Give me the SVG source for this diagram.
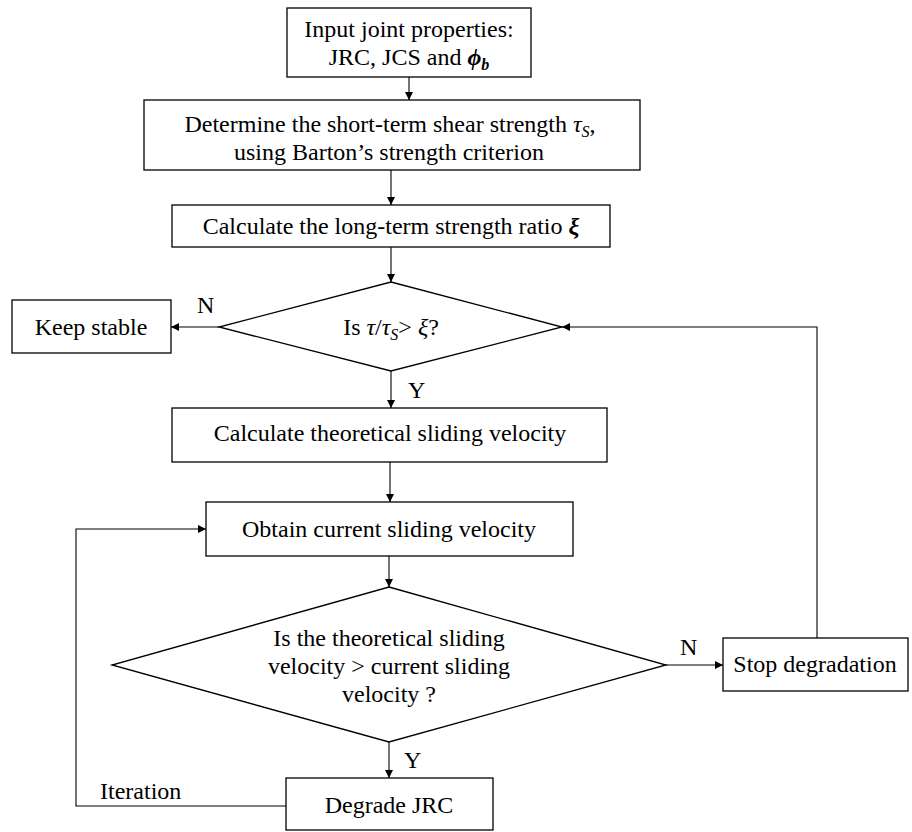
<svg xmlns="http://www.w3.org/2000/svg" width="912" height="832" viewBox="0 0 912 832">
<defs>
<marker id="arr" viewBox="0 0 10 10" refX="10" refY="5" markerWidth="8" markerHeight="8" markerUnits="userSpaceOnUse" orient="auto">
<path d="M0,0 L10,5 L0,10 z" fill="#000"/>
</marker>
<style>
.box{fill:#fff;stroke:#000;stroke-width:1.3}
.t{font-family:"Liberation Serif","Times New Roman",serif;font-size:24px;fill:#000;text-anchor:middle}
.ts{font-family:"Liberation Serif","Times New Roman",serif;font-size:24px;fill:#000}
.m{font-style:italic}
.mb{font-style:italic;font-weight:bold}
.c{fill:none;stroke:#000;stroke-width:1.1;marker-end:url(#arr)}
</style>
</defs>
<rect width="912" height="832" fill="#fff"/>
<g id="connectors">
<line class="c" x1="409" y1="77" x2="409" y2="100"/>
<line class="c" x1="391" y1="170" x2="391" y2="205"/>
<line class="c" x1="391" y1="247" x2="391" y2="282"/>
<line class="c" x1="219" y1="327" x2="171" y2="327"/>
<line class="c" x1="391" y1="371" x2="391" y2="408"/>
<line class="c" x1="390" y1="462" x2="390" y2="502"/>
<line class="c" x1="389" y1="556" x2="389" y2="587"/>
<line class="c" x1="666" y1="665" x2="723" y2="665"/>
<polyline class="c" points="817,638 817,327 562,327"/>
<line class="c" x1="389" y1="742" x2="389" y2="778"/>
<polyline class="c" points="286,806 76,806 76,529 206,529"/>
<text class="ts" x="197" y="313">N</text>
<text class="ts" x="408" y="398">Y</text>
<text class="ts" x="680" y="655">N</text>
<text class="ts" x="404" y="768">Y</text>
<text class="ts" x="100" y="799">Iteration</text>
</g>
<g id="input">
<rect class="box" x="287" y="8" width="244" height="69"/>
<text class="t" x="409" y="37">Input joint properties:</text>
<text class="t" x="409" y="65">JRC, JCS and <tspan class="mb">ϕ</tspan><tspan class="mb" font-size="16" dy="5">b</tspan></text>
</g>
<g id="short-term">
<rect class="box" x="144" y="100" width="496" height="70"/>
<text class="t" x="390" y="132">Determine the short-term shear strength <tspan class="m">τ</tspan><tspan class="m" font-size="16" dy="5">S</tspan><tspan dy="-5">,</tspan></text>
<text class="t" x="389" y="160">using Barton’s strength criterion</text>
</g>
<g id="ratio">
<rect class="box" x="172" y="205" width="438" height="42"/>
<text class="t" x="391" y="234">Calculate the long-term strength ratio <tspan class="mb">ξ</tspan></text>
</g>
<g id="decision1">
<polygon class="box" points="391,282 562,327 391,371 219,327"/>
<text class="t" x="391" y="335">Is <tspan class="m">τ</tspan>/<tspan class="m">τ</tspan><tspan class="m" font-size="16" dy="5">S</tspan><tspan dy="-5">&gt; </tspan><tspan class="m">ξ</tspan>?</text>
</g>
<g id="keep-stable">
<rect class="box" x="12" y="300" width="159" height="53"/>
<text class="t" x="91" y="335">Keep stable</text>
</g>
<g id="theoretical">
<rect class="box" x="172" y="408" width="435" height="54"/>
<text class="t" x="390" y="441">Calculate theoretical sliding velocity</text>
</g>
<g id="current">
<rect class="box" x="206" y="502" width="367" height="54"/>
<text class="t" x="389" y="537">Obtain current sliding velocity</text>
</g>
<g id="decision2">
<polygon class="box" points="389,587 666,665 389,742 112,665"/>
<text class="t" x="389" y="646">Is the theoretical sliding</text>
<text class="t" x="389" y="674">velocity &gt; current sliding</text>
<text class="t" x="389" y="702">velocity ?</text>
</g>
<g id="stop">
<rect class="box" x="723" y="638" width="185" height="53"/>
<text class="t" x="815" y="672">Stop degradation</text>
</g>
<g id="degrade">
<rect class="box" x="286" y="778" width="207" height="52"/>
<text class="t" x="389" y="813">Degrade JRC</text>
</g>
</svg>
